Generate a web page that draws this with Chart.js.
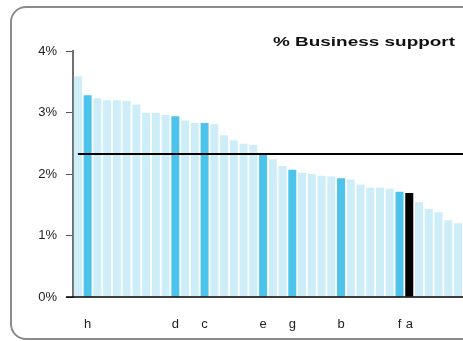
<!DOCTYPE html>
<html>
<head>
<meta charset="utf-8">
<script src="https://cdn.jsdelivr.net/npm/chart.js@4.4.1/dist/chart.umd.min.js"></script>
<style>
  html, body { margin: 0; padding: 0; background: #fff; overflow: hidden; }
  body { width: 463px; height: 341px; position: relative; }
  #frame {
    position: absolute; left: 10px; top: 6px; width: 520px; height: 334px;
    box-sizing: border-box; border: 2px solid #8c8c8c; border-radius: 16px;
  }
  #chart { position: absolute; left: 0; top: 0; }
</style>
</head>
<body>
<div id="frame"></div>
<canvas id="chart" width="470" height="341"></canvas>
<script>
// categories (only the highlighted ones carry a letter)
const categories = ['', 'h', '', '', '', '', '', '', '', '', 'd', '', '', 'c', '', '', '', '', '', 'e',
  '', '', 'g', '', '', '', '', 'b', '', '', '', '', '', 'f', 'a', '', '', '', '', ''];
// % business support
const values = [3.59, 3.28, 3.23, 3.20, 3.20, 3.19, 3.13, 2.99, 2.99, 2.96,
  2.94, 2.87, 2.83, 2.83, 2.81, 2.63, 2.55, 2.49, 2.47, 2.32,
  2.24, 2.13, 2.07, 2.02, 2.00, 1.97, 1.96, 1.93, 1.91, 1.83,
  1.78, 1.78, 1.76, 1.71, 1.69, 1.54, 1.43, 1.38, 1.25, 1.20];
const yTicks = [0, 1, 2, 3, 4];
const average = 2.32;
const selected = 'a';

const LIGHT = '#cdeef9', DARK = '#4cc3eb', BLACK = '#000000';
const FONT = '"Liberation Sans", Arial, sans-serif';

const colors = categories.map(c => c === selected ? BLACK : (c ? DARK : LIGHT));

// eje inferior, linea de promedio y titulo
const extras = {
  id: 'extras',
  afterDatasetsDraw(chart) {
    const ctx = chart.ctx;
    const area = chart.chartArea;
    const x0 = chart.scales.x.getPixelForValue(0);
    const y = Math.round(chart.scales.y.getPixelForValue(average));
    const yb = Math.round(chart.scales.y.getPixelForValue(0));
    ctx.save();
    ctx.strokeStyle = '#000';
    ctx.lineWidth = 2;
    ctx.beginPath();
    ctx.moveTo(x0, y);
    ctx.lineTo(chart.width, y);
    ctx.stroke();

    ctx.lineWidth = 1.5;
    ctx.beginPath();
    ctx.moveTo(area.left - 7, yb);
    ctx.lineTo(chart.width, yb);
    ctx.stroke();

    ctx.font = 'bold 13px ' + FONT;
    ctx.fillStyle = '#111';
    ctx.textAlign = 'right';
    ctx.textBaseline = 'alphabetic';
    const text = '% Business support';
    const w = ctx.measureText(text).width;
    ctx.translate(455, 46);
    ctx.scale(182 / w, 1);
    ctx.fillText(text, 0, 0);
    ctx.restore();
  }
};

new Chart(document.getElementById('chart'), {
  type: 'bar',
  data: {
    labels: categories,
    datasets: [{
      data: values,
      backgroundColor: colors,
      barPercentage: 0.82,
      categoryPercentage: 1
    }]
  },
  options: {
    responsive: false,
    devicePixelRatio: 1,
    animation: false,
    layout: { padding: { top: 51, left: 0, right: 0, bottom: 0 } },
    plugins: { legend: { display: false }, tooltip: { enabled: false }, title: { display: false } },
    scales: {
      x: {
        grid: { display: false },
        border: { display: false },
        ticks: { autoSkip: false, maxRotation: 0, padding: 12, color: '#222', font: { family: FONT, size: 13 } },
        afterFit: s => { s.height = 44; }
      },
      y: {
        min: 0,
        max: 4,
        afterBuildTicks: s => { s.ticks = yTicks.map(v => ({ value: v })); },
        grid: { drawOnChartArea: false, drawTicks: true, tickLength: 7, color: '#555' },
        border: { color: '#707070', width: 2 },
        ticks: { padding: 9, color: '#222', font: { family: FONT, size: 13 }, callback: v => v + '%' },
        afterFit: s => { s.width = 73; }
      }
    }
  },
  plugins: [extras]
});
</script>
</body>
</html>
